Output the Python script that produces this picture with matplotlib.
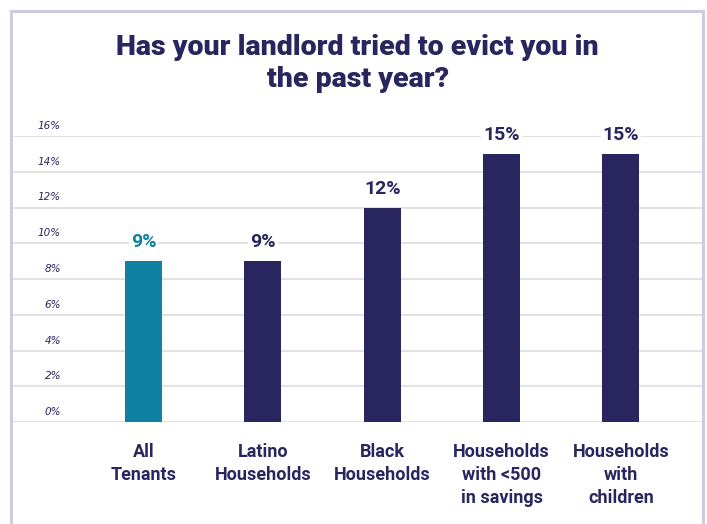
import matplotlib
matplotlib.use("Agg")
import matplotlib.pyplot as plt
import matplotlib.transforms as mtransforms
from matplotlib.patches import Rectangle

# data
categories = ["All\nTenants", "Latino\nHouseholds", "Black\nHouseholds",
              "Households\nwith <500\nin savings", "Households\nwith\nchildren"]
values = [9, 9, 12, 15, 15]
value_labels = ["9%", "9%", "12%", "15%", "15%"]
yticks = [0, 2, 4, 6, 8, 10, 12, 14, 16]
ytick_labels = ["0%", "2%", "4%", "6%", "8%", "10%", "12%", "14%", "16%"]
title = "Has your landlord tried to evict you in\nthe past year?"

navy = "#29265f"
teal = "#0f82a1"
bar_colors = [teal, navy, navy, navy, navy]
grid_col = "#dcdce2"

fig = plt.figure(figsize=(7.07, 5.24), dpi=100)
ax = fig.add_axes([13/707, 1 - 422/524, (702-13)/707, (422-136)/524])

x = list(range(len(categories)))
for yt in yticks:
    ax.axhline(yt, color=grid_col, lw=1.2, zorder=0)
bars = ax.bar(x, values, width=0.31, color=bar_colors, zorder=2)

for b, lab, c in zip(bars, value_labels, bar_colors):
    ax.annotate(lab, (b.get_x() + b.get_width()/2, b.get_height()),
                xytext=(0, 7), textcoords="offset points", ha="center", va="bottom",
                fontsize=14, fontweight="bold", family="Roboto", color=c, zorder=3,
                bbox=dict(boxstyle="square,pad=0.1", fc="white", ec="none"))

# y labels sit a little above their gridlines, inside the plot
lab_tf = mtransforms.blended_transform_factory(ax.transAxes, ax.transData)
lab_tf = lab_tf + mtransforms.ScaledTranslation(0, 5/100, fig.dpi_scale_trans)
for yt, lab in zip(yticks, ytick_labels):
    ax.text((61 - 13)/689, yt, lab, transform=lab_tf, ha="right", va="bottom",
            fontsize=7.5, style="italic", color=navy, family="DejaVu Sans")

ax.set_xlim(-1.095, 4.68)
ax.set_ylim(0, 16)
ax.set_yticks([])
ax.set_xticks(x)
ax.set_xticklabels(categories, fontsize=13, fontweight="bold", family="Roboto",
                   color=navy, linespacing=1.35)
ax.tick_params(axis="x", length=0, pad=15)
for s in ax.spines.values():
    s.set_visible(False)

fig.text(0.506, 1 - 34/524, title, ha="center", va="top", fontsize=20.5,
         fontweight="heavy", family="Roboto", color=navy, linespacing=1.25)

fig.patches.append(Rectangle((11/707, -0.05), (703-11)/707, 1.05 - 11/524,
                             transform=fig.transFigure, fill=False,
                             ec="#cdcbdf", lw=2.2))

fig.savefig("out.png", dpi=100)
